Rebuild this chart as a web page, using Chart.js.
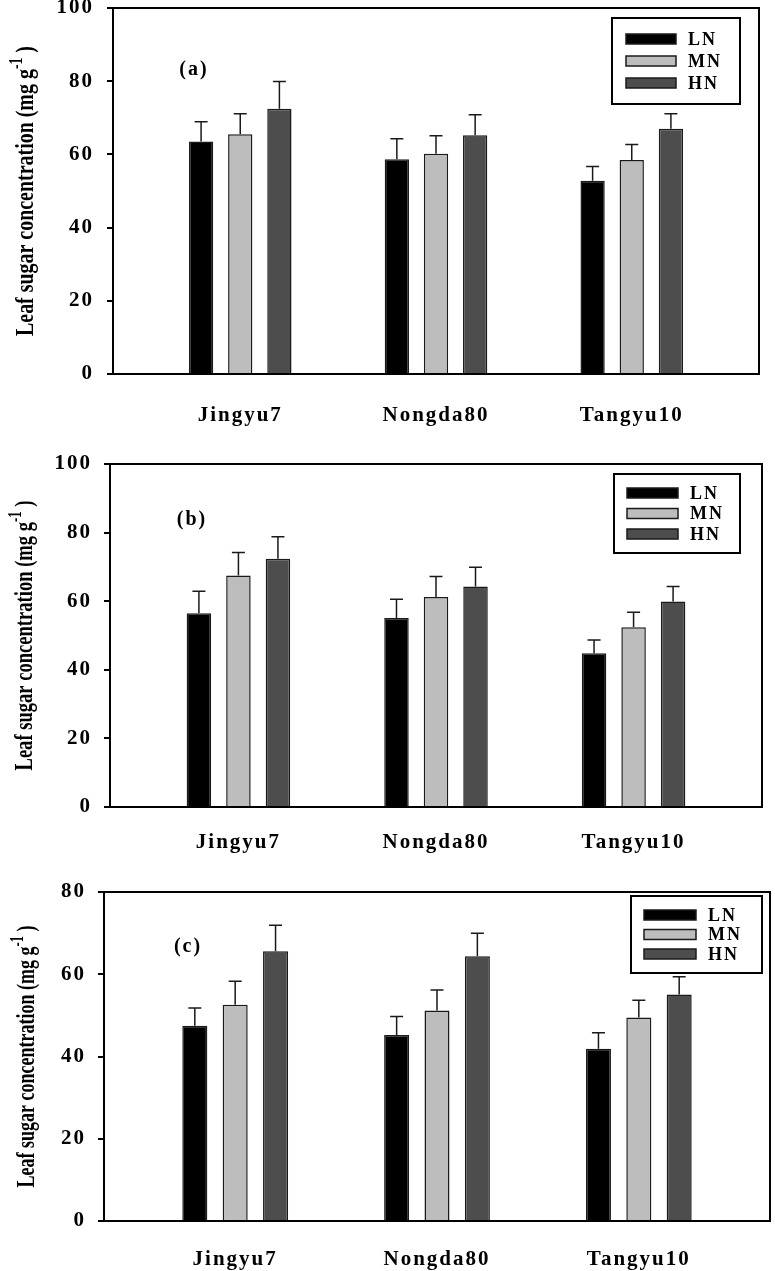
<!DOCTYPE html>
<html>
<head>
<meta charset="utf-8">
<script src="https://cdn.jsdelivr.net/npm/chart.js@4.4.0/dist/chart.umd.min.js"></script>
<style>
  html, body { margin: 0; padding: 0; background: #fff; }
  body { width: 775px; height: 1271px; position: relative; overflow: hidden; }
  canvas { position: absolute; left: 0; }
</style>
</head>
<body>
<canvas id="chartA" width="775" height="454" style="top:-20px"></canvas>
<canvas id="chartB" width="775" height="431" style="top:436px"></canvas>
<canvas id="chartC" width="775" height="417" style="top:864px"></canvas>
<script>
const categories = ["Jingyu7", "Nongda80", "Tangyu10"];
const seriesNames = ["LN", "MN", "HN"];
const seriesColors = ["#000000", "#bdbdbd", "#4d4d4d"];

// panel (a)
const lnA = [63.5, 58.7, 52.8];
const mnA = [65.5, 60.2, 58.5];
const hnA = [72.5, 65.2, 67.0];
const lnAerr = [5.4, 5.6, 3.9];
const mnAerr = [5.6, 4.9, 4.2];
const hnAerr = [7.4, 5.6, 4.1];

// panel (b)
const lnB = [56.5, 55.1, 44.8];
const mnB = [67.5, 61.2, 52.4];
const hnB = [72.4, 64.3, 59.9];
const lnBerr = [6.4, 5.5, 3.9];
const mnBerr = [6.7, 6.0, 4.4];
const hnBerr = [6.4, 5.6, 4.4];

// panel (c)
const lnC = [47.5, 45.2, 41.9];
const mnC = [52.6, 51.2, 49.5];
const hnC = [65.6, 64.4, 55.1];
const lnCerr = [4.3, 4.5, 3.9];
const mnCerr = [5.7, 5.0, 4.2];
const hnCerr = [6.3, 5.6, 4.3];

const FONT = '"Liberation Serif", "Times New Roman", serif';

function makeDecor(p) {
  return {
    id: 'decor',
    beforeDraw(chart) {
      chart.ctx.letterSpacing = '2px';
    },
    afterDatasetsDraw(chart) {
      const ctx = chart.ctx, y = chart.scales.y, a = chart.chartArea;
      ctx.save();
      // error bars
      ctx.strokeStyle = '#1a1a1a';
      ctx.lineWidth = 1.5;
      chart.data.datasets.forEach((ds, d) => {
        chart.getDatasetMeta(d).data.forEach((bar, i) => {
          const top = y.getPixelForValue(ds.data[i].y + ds.errors[i]);
          ctx.beginPath();
          ctx.moveTo(bar.x, bar.y);
          ctx.lineTo(bar.x, top);
          ctx.moveTo(bar.x - 6.5, top);
          ctx.lineTo(bar.x + 6.5, top);
          ctx.stroke();
        });
      });
      // frame
      ctx.strokeStyle = '#000';
      ctx.lineWidth = 2;
      ctx.strokeRect(a.left, a.top, a.right - a.left, a.bottom - a.top);
      ctx.restore();
    },
    afterDraw(chart) {
      const ctx = chart.ctx, a = chart.chartArea, L = p.legend;
      ctx.save();
      // legend box
      const bx = a.right - L.dx, by = a.top + L.dy;
      ctx.strokeStyle = '#000';
      ctx.lineWidth = 2;
      ctx.strokeRect(bx, by, L.w, L.h);
      ctx.textAlign = 'left';
      ctx.textBaseline = 'middle';
      ctx.font = 'bold 18px ' + FONT;
      chart.data.datasets.forEach((ds, k) => {
        const cy = by + L.ry + k * L.rp;
        ctx.fillStyle = ds.backgroundColor;
        ctx.fillRect(bx + L.sx, cy - 5, L.sw, 10);
        ctx.lineWidth = 1.5;
        ctx.strokeStyle = '#1a1a1a';
        ctx.strokeRect(bx + L.sx, cy - 5, L.sw, 10);
        ctx.fillStyle = '#000';
        ctx.fillText(ds.label, bx + L.sx + L.sw + 12, cy + 1);
      });
      // panel tag
      ctx.font = 'bold 20px ' + FONT;
      ctx.textAlign = 'center';
      ctx.fillText(p.tag, a.left + p.tagPos[0], a.top + p.tagPos[1]);
      // y axis title with superscript
      ctx.letterSpacing = '0px';
      const main = 'Leaf sugar concentration (mg g', sup = '-1', tail = ' )';
      ctx.font = 'bold 26px ' + FONT;
      const w1 = ctx.measureText(main).width, w3 = ctx.measureText(tail).width;
      ctx.font = 'bold 18px ' + FONT;
      const w2 = ctx.measureText(sup).width;
      const total = w1 + w2 + w3;
      ctx.translate(p.titleX, (a.top + a.bottom) / 2);
      ctx.rotate(-Math.PI / 2);
      ctx.scale(p.titleLen / total, 1);
      ctx.textAlign = 'left';
      ctx.textBaseline = 'alphabetic';
      let x = -total / 2;
      ctx.font = 'bold 26px ' + FONT;
      ctx.fillText(main, x, 0);
      ctx.font = 'bold 18px ' + FONT;
      ctx.fillText(sup, x + w1, -11);
      ctx.font = 'bold 26px ' + FONT;
      ctx.fillText(tail, x + w1 + w2, 0);
      ctx.restore();
    }
  };
}

function buildPanel(p) {
  const datasets = p.series.map((vals, k) => ({
    label: seriesNames[k],
    data: vals.map((v, i) => ({ x: i, y: v })),
    errors: p.errors[k],
    backgroundColor: seriesColors[k],
    borderColor: '#1a1a1a',
    borderWidth: 1.5,
    borderSkipped: 'start',
    categoryPercentage: 0.6,
    barPercentage: 0.62
  }));
  new Chart(document.getElementById(p.id), {
    type: 'bar',
    data: { datasets },
    plugins: [makeDecor(p)],
    options: {
      responsive: false,
      animation: false,
      devicePixelRatio: 1,
      layout: { padding: { left: 0, right: p.pad.right, top: p.pad.top, bottom: 0 } },
      plugins: { legend: { display: false }, tooltip: { enabled: false } },
      scales: {
        x: {
          type: 'linear',
          offset: false,
          min: -0.65,
          max: 2.65,
          grid: { display: false, offset: false },
          border: { display: false },
          afterFit: s => { s.height = 60; },
          ticks: {
            stepSize: 1,
            includeBounds: false,
            padding: p.xPad,
            color: '#000',
            font: { family: FONT, size: 21, weight: 'bold' },
            callback: v => categories[v] ?? ''
          }
        },
        y: {
          min: 0,
          max: p.yMax,
          border: { display: false },
          grid: { drawOnChartArea: false, drawTicks: true, tickLength: 6, color: '#000', lineWidth: 2 },
          afterFit: s => { s.width = p.yWidth; },
          ticks: {
            stepSize: 20,
            padding: p.yPad,
            color: '#000',
            font: { family: FONT, size: 21, weight: 'bold' }
          }
        }
      }
    }
  });
}

buildPanel({
  id: 'chartA', tag: '(a)', series: [lnA, mnA, hnA], errors: [lnAerr, mnAerr, hnAerr], yMax: 100,
  pad: { top: 28, right: 16 }, yWidth: 113, xPad: 21, yPad: 13,
  tagPos: [81, 62], titleX: 33, titleLen: 290,
  legend: { dx: 147, dy: 10, w: 128, h: 86, sx: 14, sw: 50, ry: 21, rp: 22 }
});
buildPanel({
  id: 'chartB', tag: '(b)', series: [lnB, mnB, hnB], errors: [lnBerr, mnBerr, hnBerr], yMax: 100,
  pad: { top: 28, right: 13 }, yWidth: 110, xPad: 15, yPad: 12,
  tagPos: [82, 56], titleX: 32, titleLen: 270,
  legend: { dx: 148, dy: 10, w: 126, h: 79, sx: 13, sw: 51, ry: 19, rp: 20.5 }
});
buildPanel({
  id: 'chartC', tag: '(c)', series: [lnC, mnC, hnC], errors: [lnCerr, mnCerr, hnCerr], yMax: 80,
  pad: { top: 28, right: 5 }, yWidth: 104, xPad: 18, yPad: 12,
  tagPos: [84, 55], titleX: 33.5, titleLen: 262,
  legend: { dx: 139, dy: 4, w: 131, h: 77, sx: 13, sw: 52, ry: 19, rp: 19.5 }
});
</script>
</body>
</html>
